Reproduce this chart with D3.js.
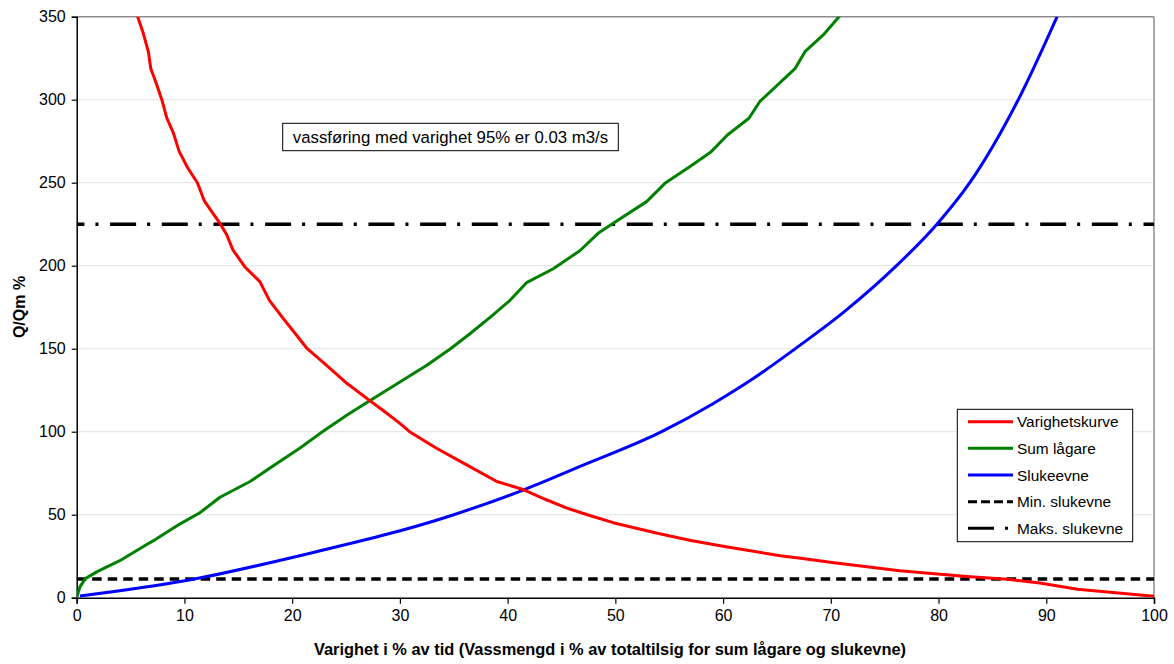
<!DOCTYPE html>
<html><head><meta charset="utf-8">
<script src="https://cdn.jsdelivr.net/npm/d3@7"></script>
<style>body{margin:0;background:#fff;} svg{display:block;font-family:"Liberation Sans",Arial,sans-serif;}</style>
</head><body>
<svg id="c" width="1174" height="664"></svg>
<script>
const yTicks = [0,50,100,150,200,250,300,350];
const xTicks = [0,10,20,30,40,50,60,70,80,90,100];
const seriesNames = ["Varighetskurve","Sum lågare","Slukeevne","Min. slukevne","Maks. slukevne"];
const annotation = "vassføring med varighet 95% er 0.03 m3/s";
const xTitle = "Varighet i % av tid (Vassmengd i % av totaltilsig for sum lågare og slukevne)";
const yTitle = "Q/Qm %";

const varighetX = [5.66,6.18,6.65,6.87,7.43,7.9,8.36,8.97,9.5,10.3,11.2,11.85,12.6,13.3,13.9,14.5,15.6,17.0,17.9,19.2,20.3,21.4,23.2,25.1,27.2,28.2,30.0,30.9,33.4,36.2,39.0,41.5,43.6,45.5,47.4,49.8,53.9,57,60.4,65.3,67.2,70.3,76.4,82.6,86.4,89.4,92.9,100];
const varighetY = [350,340,329,319,309,300,289,280,269,259,250,239,232,225.5,219,209.5,199.4,190.4,179,168,159,150,140,129,118.7,114,105,100,90,80,70,65,59,54,50,45.2,38.8,34.5,30.5,25.3,23.7,21.1,16.2,12.8,11.1,8.9,5.1,0.8];

const sumX = [0,0.3,0.8,1.9,4.0,6.5,7.3,9.6,11.4,13.3,16.1,18.6,20.7,22.6,25.1,27.2,30.0,32.5,34.7,36.5,38.4,40.2,41.8,44.2,46.7,48.4,49.8,52.9,54.6,56.9,58.9,60.4,62.4,63.4,66.7,67.6,69.3,70.9];
const sumY = [0,6.5,11.5,15.7,22.3,32,35,44.5,51,60.5,70,81,90,99,110,118.7,130,140,150,159,169,179,190,198,209,219.5,225.5,238.6,249.6,259.6,268.7,278.7,288.8,298.8,318.9,328.9,339,351];

const slukX = [0.3,9.9,20.5,35,41.5,46.5,54.3,59.1,62.8,66.7,71.2,76.1,79.85,82.9,87.4,91.0];
const slukY = [1,10,25,50,65,78.5,100,117,132,150,172,200,225,250,300,350];

const minSluk = 11.2;
const maksSluk = 225;

const svg = d3.select("#c");
const M = {l:76.7, r:1154, t:16.7, b:597.7};
const x = d3.scaleLinear().domain([0,100]).range([M.l, M.r]);
const y = d3.scaleLinear().domain([0,350]).range([M.b, M.t]);

// grid
svg.append("g").selectAll("line").data(yTicks.filter(d=>d>0 && d<350)).join("line")
  .attr("x1",M.l).attr("x2",M.r).attr("y1",d=>y(d)).attr("y2",d=>y(d))
  .attr("stroke","#c8c8c8").attr("stroke-width",1).attr("stroke-dasharray","1,1");
// top & right border
svg.append("line").attr("x1",M.l).attr("x2",M.r).attr("y1",y(350)).attr("y2",y(350)).attr("stroke","#8c8c8c").attr("stroke-width",1.5);
svg.append("line").attr("x1",M.r).attr("x2",M.r).attr("y1",M.t).attr("y2",M.b).attr("stroke","#8c8c8c").attr("stroke-width",1.5);

// axes
const yAxis = svg.append("g").attr("transform",`translate(${M.l},0)`)
  .call(d3.axisLeft(y).tickValues(yTicks).tickSize(5).tickPadding(6).tickFormat(d3.format("d")));
const xAxis = svg.append("g").attr("transform",`translate(0,${M.b})`)
  .call(d3.axisBottom(x).tickValues(xTicks).tickSize(6).tickPadding(6).tickFormat(d3.format("d")));
[yAxis,xAxis].forEach(a=>{
  a.select(".domain").attr("stroke","#000").attr("stroke-width",1.5);
  a.selectAll(".tick line").attr("stroke","#000").attr("stroke-width",1.2);
  a.selectAll("text").attr("font-size",16).attr("fill","#000").attr("font-family","Liberation Sans, Arial, sans-serif");
});

// clip
svg.append("clipPath").attr("id","clip").append("rect")
  .attr("x",M.l).attr("y",M.t).attr("width",M.r-M.l).attr("height",M.b-M.t);
const plot = svg.append("g").attr("clip-path","url(#clip)");

// reference lines
plot.append("line").attr("x1",x(0)).attr("x2",x(100)).attr("y1",y(minSluk)).attr("y2",y(minSluk))
  .attr("stroke","#000").attr("stroke-width",3.5).attr("stroke-dasharray","9.5,6");
plot.append("line").attr("x1",x(0)).attr("x2",x(100)).attr("y1",y(maksSluk)).attr("y2",y(maksSluk))
  .attr("stroke","#000").attr("stroke-width",3.5).attr("stroke-dasharray","26,11,3,11.67").attr("stroke-dashoffset",-33.4);

const line = d3.line().x(d=>x(d[0])).y(d=>y(d[1]));
const lineSmooth = d3.line().x(d=>x(d[0])).y(d=>y(d[1])).curve(d3.curveMonotoneX);
const zip = (a,b)=>a.map((v,i)=>[v,b[i]]);
plot.append("path").datum(zip(sumX,sumY)).attr("d",line).attr("fill","none").attr("stroke","#008000").attr("stroke-width",3).attr("stroke-linejoin","round");
plot.append("path").datum(zip(slukX,slukY)).attr("d",lineSmooth).attr("fill","none").attr("stroke","#0000ff").attr("stroke-width",3).attr("stroke-linejoin","round");
plot.append("path").datum(zip(varighetX,varighetY)).attr("d",line).attr("fill","none").attr("stroke","#ff0000").attr("stroke-width",3).attr("stroke-linejoin","round");

// annotation
const ag = svg.append("g");
ag.append("rect").attr("x",282.7).attr("y",123.3).attr("width",335.6).attr("height",27.4)
  .attr("fill","#fff").attr("stroke","#000").attr("stroke-width",1);
ag.append("text").attr("x",450.5).attr("y",142.5).attr("text-anchor","middle").attr("font-size",16.8).text(annotation);

// legend
const lg = svg.append("g");
lg.append("rect").attr("x",957.3).attr("y",409.3).attr("width",175.4).attr("height",132.4)
  .attr("fill","#fff").attr("stroke","#000").attr("stroke-width",1);
const lStyles = [
  {c:"#ff0000",d:null},{c:"#008000",d:null},{c:"#0000ff",d:null},
  {c:"#000",d:"9,4"},{c:"#000",d:"26,11,3,11.67"}];
seriesNames.forEach((n,i)=>{
  const yy = 421.7 + i*26.65;
  lg.append("line").attr("x1",968).attr("x2",1013).attr("y1",yy).attr("y2",yy)
    .attr("stroke",lStyles[i].c).attr("stroke-width",3).attr("stroke-dasharray",lStyles[i].d);
  lg.append("text").attr("x",1017).attr("y",yy+5.5).attr("font-size",15.4).text(n);
});

// titles
svg.append("text").attr("x",610).attr("y",655).attr("text-anchor","middle")
  .attr("font-size",16.4).attr("font-weight","bold").text(xTitle);
svg.append("text").attr("transform",`translate(25,307) rotate(-90)`).attr("text-anchor","middle")
  .attr("font-size",16).attr("font-weight","bold").text(yTitle);
</script>
</body></html>
